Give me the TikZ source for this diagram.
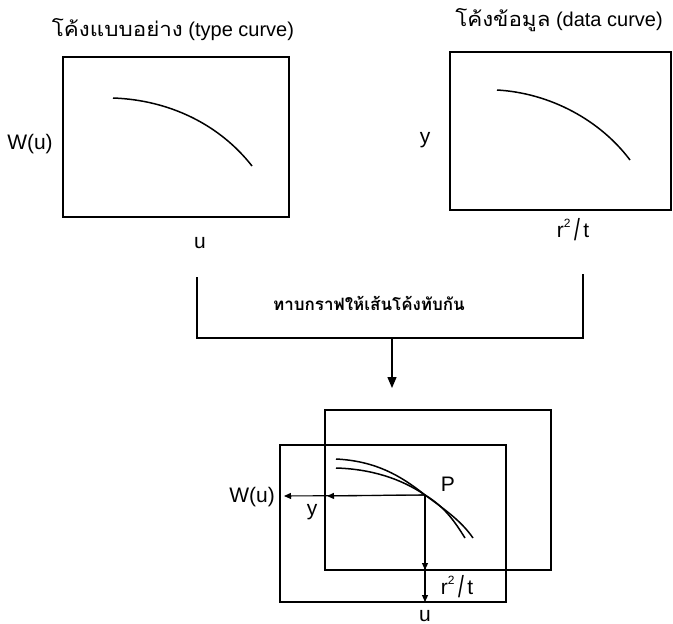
\documentclass[tikz,border=0pt]{standalone}
\usepackage{fontspec}
\usepackage{graphicx}
\setmainfont{Liberation Sans}
\newfontfamily\thaifont[Script=Thai, FakeStretch=1.12]{Loma}
\newfontfamily\thaimid[Script=Thai]{Loma}
\newcommand{\rtfrac}{r\raisebox{0.5em}{\fontsize{12}{12}\selectfont 2}\,\raisebox{-0.15em}{\scalebox{1}[1.45]{/}}\,t}
\usetikzlibrary{arrows.meta}
\tikzset{
  frame/.style={draw, line width=1.5pt, inner sep=0pt, outer sep=0pt, minimum width=226pt, minimum height=160pt},
  curveline/.style={line width=1.5pt},
  lbl/.style={inner sep=0pt, font=\fontsize{21}{23}\selectfont},
  ttl/.style={inner sep=0pt, font=\fontsize{20}{22}\selectfont},
  flow/.style={line width=1.3pt},
  bigtip/.style={line width=1.3pt, -{Triangle[length=11pt,width=9pt]}},
  smalltip/.style={line width=1.1pt, -{Triangle[length=7pt,width=6pt]}}
}
\begin{document}
\begin{tikzpicture}[x=1pt,y=-1pt]
\useasboundingbox (0,0) rectangle (673,624);
% top left: type curve
\node[ttl] (ttitle) at (173,30) {{\thaifont โค้งแบบอย่าง} (type curve)};
\node[frame] (tbox) at (176,137) {};
\node[lbl] (tW) at (30,144) {W(u)};
\node[lbl] (tu) at (200,243) {u};
\draw[curveline] (113,98) .. controls (170,100) and (220,125) .. (252,166);
% top right: data curve
\node[ttl] (dtitle) at (559,20) {{\thaifont โค้งข้อมูล} (data curve)};
\node[frame, minimum width=221pt, minimum height=158pt] (dbox) at (560.5,131) {};
\node[lbl] (dy) at (425,140) {y};
\node[lbl] (dr) at (573,230) {\rtfrac};
\draw[curveline] (497,90) .. controls (550,93) and (600,120) .. (630,160);
% bracket
\coordinate (bLtop) at (197,277);
\coordinate (bRtop) at (583,274);
\coordinate (jL) at (197,338);
\coordinate (jR) at (583,338);
\coordinate (jM) at (392,338);
\coordinate (aEnd) at (392,388);
\draw[flow] (bLtop) -- (jL) -- (jR) -- (bRtop);
\draw[bigtip] (jM) -- (aEnd);
\node[inner sep=0pt, font=\fontsize{17}{19}\selectfont\thaimid\bfseries] (mid) at (369,303) {ทาบกราฟให้เส้นโค้งทับกัน};
% bottom: overlay
\node[frame, minimum height=157pt] (fbox) at (393,523.5) {};
\node[frame] (bbox) at (438,490) {};
\coordinate (P) at (425,495);
\draw[curveline] (336,459) .. controls (375,461) and (400,475) .. (P) .. controls (447,511) and (462,522) .. (473,538);
\draw[curveline] (336,468) .. controls (370,469) and (400,478) .. (P) .. controls (445,507) and (455,522) .. (465,538);
\coordinate (wEnd) at (284,496);
\coordinate (yEnd) at (327,496);
\coordinate (rEnd) at (425,570);
\coordinate (uEnd) at (425,602);
\draw[smalltip] (P) -- (wEnd);
\draw[smalltip] (P) -- (yEnd);
\draw[smalltip] (P) -- (rEnd);
\draw[smalltip] (P) -- (uEnd);
\node[lbl] (bW) at (252,497) {W(u)};
\node[lbl] (by) at (312,512) {y};
\node[lbl] (bP) at (448,484) {P};
\node[lbl] (br) at (457,587) {\rtfrac};
\node[lbl, anchor=base] (bu) at (425,621) {u};
\end{tikzpicture}
\end{document}
